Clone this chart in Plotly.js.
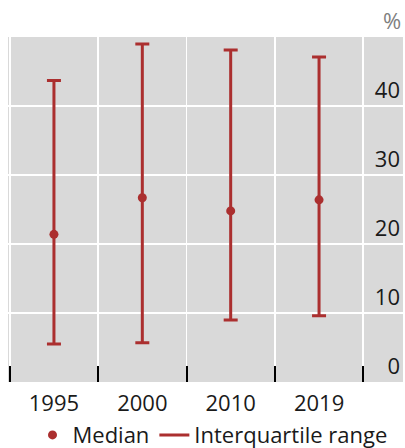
<!DOCTYPE html>
<html>
<head>
<meta charset="utf-8">
<script src="https://cdn.plot.ly/plotly-3.0.1.min.js"></script>
<style>html,body{margin:0;padding:0;background:#fff;}#chart{width:405px;height:448px;}</style>
</head>
<body>
<div id="chart"></div>
<script>
const years = ['1995', '2000', '2010', '2019'];
const median = [21.4, 26.7, 24.8, 26.4];
const q1 = [5.5, 5.7, 9.0, 9.6];
const q3 = [43.7, 49.0, 48.1, 47.1];
const yTicks = [0, 10, 20, 30, 40];

const red = '#ab2f2f';
const txt = '#1a1a1a';
const fs = 22;
const idx = years.map((_, i) => i);
const bounds = years.map((_, i) => i - 0.5).concat([years.length - 0.5]);

const traces = [
  {
    type: 'scatter', mode: 'markers', name: 'Median',
    x: idx, y: median,
    marker: {color: red, size: 9},
    error_y: {
      type: 'data', symmetric: false,
      array: q3.map((v, i) => v - median[i]),
      arrayminus: median.map((v, i) => v - q1[i]),
      color: red, thickness: 3, width: 7
    },
    hoverinfo: 'skip'
  },
  {
    type: 'scatter', mode: 'lines', name: 'Interquartile range',
    x: [null], y: [null],
    line: {color: red, width: 3}
  },
  {
    type: 'scatter', mode: 'markers', xaxis: 'x2', yaxis: 'y',
    x: bounds, y: bounds.map(() => null), showlegend: false, hoverinfo: 'skip'
  }
];

const xr = [-0.52, 3.95];
const layout = {
  width: 405, height: 448,
  margin: {l: 8, r: 2, t: 37, b: 66, autoexpand: false},
  paper_bgcolor: '#ffffff',
  plot_bgcolor: '#d9d9d9',
  font: {family: '"Open Sans", sans-serif', size: fs, color: txt},
  showlegend: true,
  legend: {
    orientation: 'h', x: 0.062, xanchor: 'left', y: -0.093, yanchor: 'top',
    font: {size: fs, color: txt}, bgcolor: 'rgba(0,0,0,0)', itemclick: false
  },
  xaxis: {
    range: xr, tickvals: idx, ticktext: years,
    tickfont: {size: fs, color: txt}, ticklabelstandoff: 6,
    showgrid: false, zeroline: false, showline: false, ticks: '',
    fixedrange: true
  },
  xaxis2: {
    overlaying: 'x', anchor: 'y', side: 'bottom', range: xr,
    tickvals: bounds, showticklabels: false,
    showgrid: true, gridcolor: '#ffffff', gridwidth: 1.5,
    ticks: 'inside', ticklen: 16, tickwidth: 2, tickcolor: '#000000',
    zeroline: false, showline: false
  },
  yaxis: {
    range: [0, 50], side: 'right', tickvals: yTicks,
    ticklabelposition: 'inside top',
    tickfont: {size: fs, color: txt},
    showgrid: true, gridcolor: '#ffffff', gridwidth: 1.5,
    zeroline: false, showline: false, ticks: '',
    fixedrange: true
  },
  annotations: [{
    xref: 'paper', yref: 'paper', x: 1, y: 1, xanchor: 'right', yanchor: 'bottom',
    text: '%', showarrow: false, font: {size: fs, color: '#7f7f7f'}, yshift: 0
  }]
};

Plotly.newPlot('chart', traces, layout, {displayModeBar: false, staticPlot: true});
</script>
</body>
</html>
